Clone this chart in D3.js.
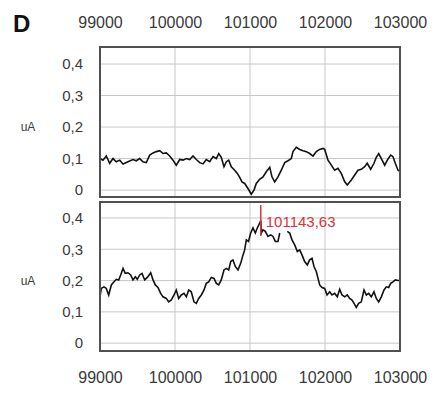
<!DOCTYPE html>
<html>
<head>
<meta charset="utf-8">
<script src="https://cdn.jsdelivr.net/npm/d3@7"></script>
<style>
  html, body { margin: 0; padding: 0; background: #fff; }
  svg { display: block; font-family: "Liberation Sans", Arial, sans-serif; }
</style>
</head>
<body>
<svg id="chart" width="437" height="394"></svg>
<script>
const xTicks = [99000, 100000, 101000, 102000, 103000];
const yTicks = [0, 0.1, 0.2, 0.3, 0.4];
const panelLabel = "D";
const unitLabel = "uA";
const markerX = 101143.63;
const markerText = "101143,63";

const topX = [99000,99040,99084,99129,99173,99217,99263,99307,99373,99440,99484,99529,99573,99617,99663,99707,99751,99796,99840,99884,99929,99973,100017,100063,100107,100151,100196,100240,100284,100329,100373,100417,100463,100507,100551,100583,100617,100653,100684,100716,100751,100796,100831,100863,100893,100929,100973,101017,101053,101084,101129,101173,101217,101263,101293,101329,101373,101417,101463,101507,101551,101573,101617,101663,101707,101751,101796,101840,101884,101929,101973,101996,102040,102084,102129,102173,102217,102263,102297,102351,102396,102440,102484,102529,102563,102609,102653,102684,102716,102751,102796,102831,102876,102907,102937,102973,103000];
const topY = [0.10,0.095,0.108,0.085,0.10,0.09,0.095,0.083,0.09,0.097,0.093,0.10,0.09,0.087,0.111,0.118,0.122,0.125,0.116,0.118,0.108,0.095,0.079,0.097,0.095,0.10,0.097,0.108,0.097,0.087,0.083,0.097,0.09,0.106,0.10,0.116,0.104,0.074,0.09,0.095,0.074,0.063,0.053,0.04,0.026,0.021,0.005,-0.013,0.0,0.021,0.034,0.042,0.058,0.072,0.042,0.026,0.042,0.063,0.087,0.093,0.10,0.122,0.136,0.129,0.125,0.122,0.116,0.108,0.122,0.129,0.132,0.129,0.095,0.079,0.063,0.069,0.053,0.026,0.016,0.032,0.048,0.063,0.066,0.074,0.085,0.066,0.085,0.104,0.116,0.10,0.079,0.095,0.111,0.106,0.085,0.063,0.06];

const botX = [99000,99017,99053,99084,99116,99151,99187,99217,99249,99276,99307,99337,99373,99409,99440,99471,99497,99529,99560,99596,99631,99676,99707,99737,99773,99809,99840,99884,99916,99951,99987,100017,100049,100084,100120,100151,100183,100217,100253,100284,100316,100351,100387,100417,100449,100484,100520,100551,100583,100617,100653,100684,100716,100743,100773,100804,100840,100876,100907,100929,100951,100980,101009,101040,101071,101097,101129,101144,101151,101173,101204,101240,101276,101307,101337,101373,101396,101440,101497,101529,101560,101596,101631,101663,101693,101729,101764,101796,101827,101853,101884,101907,101929,101960,101996,102027,102063,102093,102129,102164,102196,102227,102263,102297,102329,102360,102387,102417,102449,102484,102520,102551,102583,102617,102653,102684,102716,102751,102787,102817,102849,102876,102907,102937,102973,103000];
const botY = [0.148,0.175,0.18,0.175,0.154,0.186,0.196,0.204,0.202,0.218,0.239,0.223,0.225,0.218,0.202,0.212,0.204,0.218,0.223,0.202,0.21,0.225,0.202,0.186,0.178,0.159,0.148,0.143,0.132,0.138,0.154,0.17,0.143,0.154,0.159,0.148,0.17,0.164,0.132,0.127,0.143,0.154,0.17,0.191,0.196,0.21,0.207,0.191,0.186,0.202,0.234,0.239,0.234,0.261,0.266,0.245,0.234,0.255,0.282,0.298,0.33,0.325,0.352,0.368,0.352,0.368,0.384,0.392,0.352,0.362,0.357,0.341,0.346,0.341,0.325,0.325,0.352,null,0.357,0.352,0.33,0.314,0.293,0.298,0.282,0.261,0.25,0.266,0.271,0.245,0.229,0.207,0.186,0.178,0.175,0.154,0.164,0.154,0.159,0.148,0.172,0.154,0.148,0.154,0.143,0.138,0.127,0.114,0.127,0.132,0.17,0.154,0.159,0.148,0.164,0.143,0.132,0.148,0.17,0.18,0.178,0.191,0.196,0.202,0.20,0.20];

const svg = d3.select("#chart");
const x = d3.scaleLinear().domain([99000, 103000]).range([100, 400]);
const yTop = d3.scaleLinear().domain([-0.022, 0.454]).range([197, 47]);
const yBot = d3.scaleLinear().domain([-0.025, 0.451]).range([351, 202]);

const fmtY = v => v === 0 ? "0" : d3.format(".1f")(v).replace(".", ",");
const gridColor = "#c8c8c8";
const frameColor = "#505050";
const textColor = "#3a3a3a";
const fontFam = "'Liberation Sans', Arial, sans-serif";

function panel(y, xs, ys) {
  const g = svg.append("g");
  g.selectAll("line.h").data(yTicks).join("line")
    .attr("x1", 100).attr("x2", 400)
    .attr("y1", d => y(d)).attr("y2", d => y(d))
    .attr("stroke", gridColor).attr("stroke-width", 1);
  g.selectAll("line.v").data(xTicks.slice(1, -1)).join("line")
    .attr("x1", d => x(d)).attr("x2", d => x(d))
    .attr("y1", y.range()[1]).attr("y2", y.range()[0])
    .attr("stroke", gridColor).attr("stroke-width", 1);
  const data = xs.map((xv, i) => ({x: xv, y: ys[i]}));
  g.append("path").datum(data)
    .attr("fill", "none").attr("stroke", "#111").attr("stroke-width", 1.6)
    .attr("stroke-linejoin", "miter")
    .attr("d", d3.line().defined(d => d.y !== null).x(d => x(d.x)).y(d => y(d.y)));
  g.append("rect")
    .attr("x", 100).attr("y", y.range()[1])
    .attr("width", 300).attr("height", y.range()[0] - y.range()[1])
    .attr("fill", "none").attr("stroke", frameColor).attr("stroke-width", 2);
  const ya = svg.append("g").attr("transform", "translate(100,0)")
    .call(d3.axisLeft(y).tickValues(yTicks).tickFormat(fmtY).tickSize(0).tickPadding(17));
  ya.select(".domain").remove();
  ya.selectAll("text").attr("font-size", 15).attr("fill", textColor).attr("font-family", fontFam);
  svg.append("text").attr("x", 28).attr("y", y(0.2)).attr("dy", "0.35em")
    .attr("text-anchor", "middle").attr("font-size", 12).attr("fill", textColor)
    .attr("font-family", fontFam)
    .text(unitLabel);
  return g;
}

panel(yTop, topX, topY);
panel(yBot, botX, botY);

const xa1 = svg.append("g").attr("transform", "translate(0,47)")
  .call(d3.axisTop(x).tickValues(xTicks).tickFormat(d3.format("d")).tickSize(0).tickPadding(19));
xa1.select(".domain").remove();
xa1.selectAll("text").attr("font-size", 16).attr("fill", textColor).attr("font-family", fontFam);

const xa2 = svg.append("g").attr("transform", "translate(0,351)")
  .call(d3.axisBottom(x).tickValues(xTicks).tickFormat(d3.format("d")).tickSize(0).tickPadding(21));
xa2.select(".domain").remove();
xa2.selectAll("text").attr("font-size", 16).attr("fill", textColor).attr("font-family", fontFam);

svg.append("line")
  .attr("x1", x(markerX)).attr("x2", x(markerX))
  .attr("y1", 205).attr("y2", 236)
  .attr("stroke", "#d9343c").attr("stroke-width", 1.5);
svg.append("text")
  .attr("x", x(markerX) + 5).attr("y", 227)
  .attr("font-size", 15).attr("fill", "#d9343c").attr("font-family", fontFam)
  .text(markerText);

svg.append("text").attr("x", 13).attr("y", 32)
  .attr("font-size", 24).attr("font-weight", "bold").attr("fill", "#111")
  .attr("font-family", fontFam)
  .text(panelLabel);
</script>
</body>
</html>
